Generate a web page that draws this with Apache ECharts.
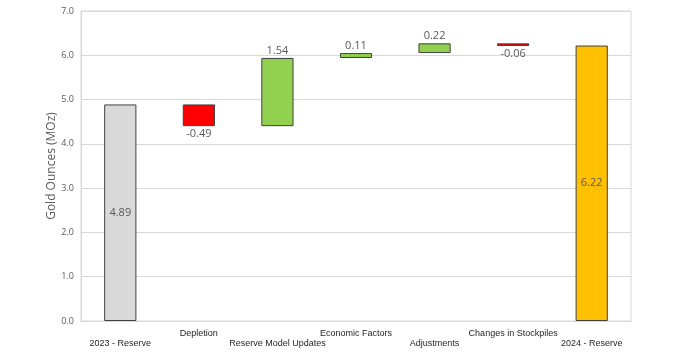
<!DOCTYPE html>
<html>
<head>
<meta charset="utf-8">
<script src="https://cdn.jsdelivr.net/npm/echarts@6/dist/echarts.min.js"></script>
<style>
    html, body { margin: 0; padding: 0; background: #fff; }
    #chart { width: 674px; height: 353px; }
</style>
</head>
<body>
<div id="chart"></div>
<script>
// 类目
var categories = ['2023 - Reserve', 'Depletion', 'Reserve Model Updates', 'Economic Factors',
    'Adjustments', 'Changes in Stockpiles', '2024 - Reserve'];
// 各项变化（首尾为总量）
var changes = [4.89, -0.49, 1.54, 0.11, 0.22, -0.06, 6.22];
// 每个柱的类型：total / delta
var kinds = ['total', 'delta', 'delta', 'delta', 'delta', 'delta', 'total'];
var yTicks = [0, 1, 2, 3, 4, 5, 6, 7];

var fillColors = { start: '#D9D9D9', up: '#92D050', down: '#FF0000', end: '#FFC000' };

// 计算瀑布图底座
var baseData = [];
var barData = [];
var running = 0;
for (var i = 0; i < changes.length; i++) {
    var v = changes[i];
    var color, base, height, pos;
    if (kinds[i] === 'total') {
        base = 0;
        height = v;
        running = v;
        color = i === 0 ? fillColors.start : fillColors.end;
        pos = 'inside';
    } else if (v >= 0) {
        base = running;
        height = v;
        running = running + v;
        color = fillColors.up;
        pos = 'top';
    } else {
        running = running + v;
        base = running;
        height = -v;
        color = fillColors.down;
        pos = 'bottom';
    }
    baseData.push(+base.toFixed(2));
    barData.push({
        value: +height.toFixed(2),
        itemStyle: { color: color },
        label: {
            position: pos,
            distance: 2,
            formatter: v.toFixed(2)
        }
    });
}

var chart = echarts.init(document.getElementById('chart'));
chart.setOption({
    animation: false,
    grid: {
        left: 81,
        right: 43,
        top: 11,
        bottom: 32,
        show: true,
        borderColor: '#D9D9D9',
        borderWidth: 1
    },
    xAxis: {
        type: 'category',
        data: categories,
        axisLine: { lineStyle: { color: '#D9D9D9' } },
        axisTick: { show: false },
        axisLabel: {
            interval: 0,
            margin: 8,
            formatter: function(value, idx) {
                return idx % 2 === 0 ? '{lo|' + value + '}' : '{hi|' + value + '}';
            },
            rich: {
                hi: { fontFamily: 'Liberation Sans', fontSize: 9, color: '#262626' },
                lo: { fontFamily: 'Liberation Sans', fontSize: 9, color: '#262626', padding: [10, 0, 0, 0] }
            }
        }
    },
    yAxis: {
        type: 'value',
        min: 0,
        max: 7,
        interval: 1,
        name: 'Gold Ounces (MOz)',
        nameLocation: 'middle',
        nameGap: 23,
        nameMoveOverlap: false,
        nameTextStyle: { fontFamily: 'Open Sans', fontSize: 12, color: '#595959' },
        axisLine: { show: true, lineStyle: { color: '#D9D9D9' } },
        axisTick: { show: false },
        splitLine: { lineStyle: { color: '#D9D9D9', width: 1 } },
        axisLabel: {
            fontFamily: 'Open Sans',
            fontSize: 9,
            color: '#595959',
            margin: 7,
            formatter: function(v) { return v.toFixed(1); }
        }
    },
    series: [{
        type: 'bar',
        stack: 'wf',
        silent: true,
        itemStyle: { color: 'transparent' },
        data: baseData
    }, {
        type: 'bar',
        stack: 'wf',
        barWidth: '41%',
        itemStyle: { borderColor: '#404040', borderWidth: 1 },
        label: {
            show: true,
            fontFamily: 'Open Sans',
            fontSize: 11,
            color: '#595959'
        },
        data: barData
    }]
});
</script>
</body>
</html>
